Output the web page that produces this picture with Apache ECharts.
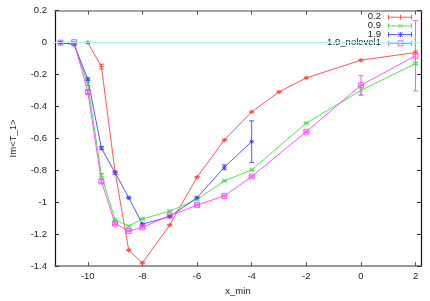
<!DOCTYPE html>
<html><head><meta charset="utf-8">
<script src="https://cdn.jsdelivr.net/npm/echarts@6/dist/echarts.min.js"></script>
<style>html,body{margin:0;padding:0;background:#fff}#c{width:430px;height:301px}</style>
</head><body><div id="c"></div>
<script>
// ---- data ----
const xTicks = [-10, -8, -6, -4, -2, 0, 2];
const seriesNames = ['0.2', '0.9', '1.9', '1.9_nolevel1'];

const x02 = [-10, -9.5, -9, -8.5, -8, -7, -6, -5, -4, -3, -2, 0, 2];
const y02 = [0, -0.15, -0.81, -1.30, -1.38, -1.143, -0.843, -0.61, -0.434, -0.309, -0.221, -0.11, -0.062];
const e02 = [0.005, 0.015, 0.005, 0.005, 0.005, 0.005, 0.005, 0.005, 0.005, 0.005, 0.005, 0.005, 0.01];

const x09 = [-11, -10.5, -10, -9.5, -9, -8.5, -8, -7, -6, -5, -4, -2, 0, 2];
const y09 = [0, -0.01, -0.259, -0.831, -1.11, -1.15, -1.104, -1.056, -0.982, -0.866, -0.797, -0.504, -0.299, -0.131];
const e09 = [0.003, 0.003, 0.01, 0.01, 0.005, 0.005, 0.005, 0.005, 0.005, 0.005, 0.005, 0.005, 0.03, 0.005];

const x19 = [-11, -10.5, -10, -9.5, -9, -8.5, -8, -7, -6, -5, -4];
const y19 = [0, -0.012, -0.229, -0.661, -0.815, -0.972, -1.137, -1.09, -0.972, -0.781, -0.62];
const e19 = [0.003, 0.003, 0.008, 0.01, 0.01, 0.005, 0.005, 0.005, 0.005, 0.015, 0.13];

const x19n = [-11, -10.5, -10, -9.5, -9, -8.5, -8, -7, -6, -5, -4, -2, 0, 2];
const y19n = [0, 0.003, -0.309, -0.869, -1.134, -1.18, -1.157, -1.084, -1.018, -0.96, -0.839, -0.558, -0.267, -0.082];
const e19n = [0.003, 0.005, 0.01, 0.01, 0.005, 0.005, 0.005, 0.005, 0.005, 0.005, 0.005, 0.005, 0.06, 0.22];

// ---- styles ----
const colors = ['#ff4444', '#44e044', '#4444ff', '#ff44ff'];
const symbols = [
  'path://M5,0L5,10M0,5L10,5',
  'path://M0,0L10,10M10,0L0,10',
  'path://M5,0L5,10M0,5L10,5M1.5,1.5L8.5,8.5M8.5,1.5L1.5,8.5',
  'rect'
];
const FONT = 'Liberation Sans, Arial, sans-serif';

function pts(xs, ys) { return xs.map((x, i) => [x, ys[i]]); }
function errs(xs, ys, es) { return xs.map((x, i) => [x, ys[i] - es[i], ys[i] + es[i]]); }

const groups = [[x02, y02, e02], [x09, y09, e09], [x19, y19, e19], [x19n, y19n, e19n]];

const series = [];
series.push({
  type: 'line', data: [], silent: true,
  markLine: { symbol: 'none', silent: true, label: { show: false },
    lineStyle: { color: '#a8f4f4', width: 1, type: 'solid' }, data: [{ yAxis: 0 }] }
});
groups.forEach((g, k) => {
  const c = colors[k];
  series.push({
    type: 'custom', name: seriesNames[k] + '_err', z: 3,
    data: errs(g[0], g[1], g[2]),
    renderItem: function (params, api) {
      const x = api.value(0), lo = api.value(1), hi = api.value(2);
      const p1 = api.coord([x, hi]), p2 = api.coord([x, lo]);
      const w = 2.5;
      const st = { stroke: c, lineWidth: 0.9 };
      return { type: 'group', children: [
        { type: 'line', shape: { x1: p1[0], y1: p1[1], x2: p2[0], y2: p2[1] }, style: st },
        { type: 'line', shape: { x1: p1[0] - w, y1: p1[1], x2: p1[0] + w, y2: p1[1] }, style: st },
        { type: 'line', shape: { x1: p2[0] - w, y1: p2[1], x2: p2[0] + w, y2: p2[1] }, style: st }
      ]};
    }
  });
  series.push({
    type: 'line', name: seriesNames[k], z: 4,
    data: pts(g[0], g[1]),
    symbol: symbols[k], symbolSize: k === 3 ? 5 : 4.5,
    showSymbol: true, animation: false,
    lineStyle: { color: c, width: 0.9 },
    itemStyle: { color: k === 3 ? 'rgba(0,0,0,0)' : c, borderColor: c, borderWidth: 0.9 }
  });
});

// legend drawn with graphic
const legendGraphics = [];
function gl(x1, y1, x2, y2, c) {
  return { type: 'line', shape: { x1: x1, y1: y1, x2: x2, y2: y2 }, style: { stroke: c, lineWidth: 0.9 } };
}
seriesNames.forEach((n, k) => {
  const y = 16.7 + k * 8.7;
  const c = colors[k];
  legendGraphics.push({ type: 'text', x: 381, y: y,
    style: { text: n, font: '9.5px ' + FONT, fill: '#222', textAlign: 'right', textVerticalAlign: 'middle' } });
  legendGraphics.push(gl(388, y + 0.5, 412, y + 0.5, c));
  legendGraphics.push(gl(388.5, y - 2, 388.5, y + 3, c));
  legendGraphics.push(gl(411.5, y - 2, 411.5, y + 3, c));
  if (k === 0 || k === 2) {
    legendGraphics.push(gl(400.5, y - 2, 400.5, y + 3, c));
  }
  if (k === 1 || k === 2) {
    legendGraphics.push(gl(398.3, y - 1.7, 402.7, y + 2.7, c));
    legendGraphics.push(gl(402.7, y - 1.7, 398.3, y + 2.7, c));
  }
  if (k === 3) {
    legendGraphics.push({ type: 'rect', shape: { x: 398, y: y - 2, width: 5, height: 5 }, style: { stroke: c, fill: 'none', lineWidth: 0.9 } });
  }
});

const xMin = -11.2, xMax = 2.2;
const chart = echarts.init(document.getElementById('c'), null, { renderer: 'canvas' });
chart.setOption({
  animation: false,
  backgroundColor: '#fff',
  grid: { left: 42.7, right: 9, top: 10.7, bottom: 25.3, containLabel: false },
  xAxis: [
    { type: 'value', min: xMin, max: xMax, position: 'bottom',
      name: 'x_min', nameLocation: 'middle', nameGap: 15,
      nameTextStyle: { fontFamily: FONT, fontSize: 9.5, color: '#222' },
      axisLine: { show: true, onZero: false, lineStyle: { color: '#777', width: 1.5 } },
      axisTick: { show: true, inside: true, length: 4, customValues: xTicks, lineStyle: { color: '#555' } },
      axisLabel: { customValues: xTicks, fontFamily: FONT, fontSize: 9.5, color: '#222', margin: 5 },
      splitLine: { show: false } },
    { type: 'value', min: xMin, max: xMax, position: 'top',
      axisLine: { show: true, onZero: false, lineStyle: { color: '#888', width: 1.5 } },
      axisTick: { show: true, inside: true, length: 4, customValues: xTicks, lineStyle: { color: '#555' } },
      axisLabel: { show: false }, splitLine: { show: false } }
  ],
  yAxis: [
    { type: 'value', min: -1.4, max: 0.2, interval: 0.2, position: 'left',
      name: 'Im<T_1>', nameLocation: 'middle', nameGap: 37,
      nameTextStyle: { fontFamily: FONT, fontSize: 9.5, color: '#222' },
      axisLine: { show: true, onZero: false, lineStyle: { color: '#111', width: 1.2 } },
      axisTick: { show: true, inside: true, length: 4, lineStyle: { color: '#333' } },
      axisLabel: { fontFamily: FONT, fontSize: 9.5, color: '#222', margin: 8,
        formatter: v => String(Math.round(v * 10) / 10) },
      splitLine: { show: false } },
    { type: 'value', min: -1.4, max: 0.2, interval: 0.2, position: 'right',
      axisLine: { show: true, onZero: false, lineStyle: { color: '#111', width: 1.2 } },
      axisTick: { show: true, inside: true, length: 4, lineStyle: { color: '#333' } },
      axisLabel: { show: false }, splitLine: { show: false } }
  ],
  graphic: legendGraphics,
  series: series
});
</script></body></html>
